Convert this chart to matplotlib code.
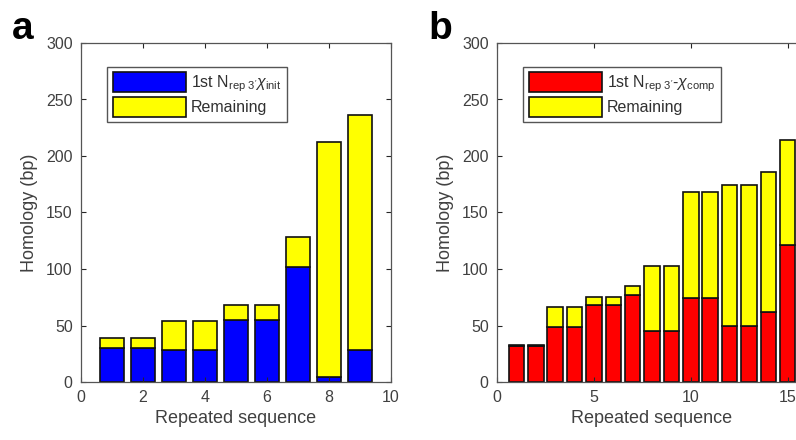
import matplotlib
matplotlib.use("Agg")
import matplotlib.pyplot as plt

plt.rcParams['font.family'] = ['Liberation Sans', 'DejaVu Sans']
plt.rcParams['mathtext.fontset'] = 'custom'
plt.rcParams['mathtext.rm'] = 'Liberation Sans'
plt.rcParams['mathtext.it'] = 'Liberation Sans:italic'

# panel a data
seq_a = [1, 2, 3, 4, 5, 6, 7, 8, 9]
first_a = [30, 30, 28, 28, 55, 55, 102, 4, 28]
total_a = [39, 39, 54, 54, 68, 68, 128, 212, 236]

# panel b data
seq_b = [1, 2, 3, 4, 5, 6, 7, 8, 9, 10, 11, 12, 13, 14, 15]
first_b = [32, 32, 49, 49, 68, 68, 77, 45, 45, 74, 74, 50, 50, 62, 121]
total_b = [33, 33, 66, 66, 75, 75, 85, 103, 103, 168, 168, 174, 174, 186, 214]

label_a = r"1st N$_{\mathrm{rep}\ 3'}\chi_{\mathrm{init}}$"
label_b = r"1st N$_{\mathrm{rep}\ 3'}$-$\chi_{\mathrm{comp}}$"

axcol = '#262626'

fig = plt.figure(figsize=(7.96, 4.4), dpi=100)
ax_a = fig.add_axes([81/796, 58/440, 310/796, 339/440])
ax_b = fig.add_axes([497/796, 58/440, 310/796, 339/440])


def draw(ax, seq, first, total, color, label, xmax, xticks):
    rest = [t - f for t, f in zip(total, first)]
    ax.bar(seq, first, width=0.8, color=color, edgecolor='#111111', linewidth=1.2, label=label)
    ax.bar(seq, rest, bottom=first, width=0.8, color='#ffff00', edgecolor='#111111',
           linewidth=1.2, label='Remaining')
    ax.set_xlim(0, xmax)
    ax.set_ylim(0, 300)
    ax.set_xticks(xticks)
    ax.set_yticks(range(0, 301, 50))
    ax.tick_params(direction='in', top=True, right=True, length=3.5, width=0.8,
                   labelsize=11.5, colors=axcol, labelcolor='#404040', pad=6)
    for s in ax.spines.values():
        s.set_color('#555555')
        s.set_linewidth(0.9)
    ax.set_xlabel('Repeated sequence', fontsize=13, color='#404040', labelpad=3)
    ax.set_ylabel('Homology (bp)', fontsize=13, color='#404040', labelpad=6)
    leg = ax.legend(loc='upper left', bbox_to_anchor=(0.085, 0.93), fontsize=11.5,
                    handlelength=4.6, handleheight=1.55, labelspacing=0.15,
                    borderpad=0.35, handletextpad=0.3, fancybox=False,
                    framealpha=1, edgecolor='#555555', borderaxespad=0)
    leg.get_frame().set_linewidth(1.0)
    for t in leg.get_texts():
        t.set_color('#303030')


draw(ax_a, seq_a, first_a, total_a, '#0000ff', label_a, 10, [0, 2, 4, 6, 8, 10])
draw(ax_b, seq_b, first_b, total_b, '#ff0000', label_b, 16, [0, 5, 10, 15])

fig.text(12/796, 1 - 39/440, 'a', fontsize=28, fontweight='bold', va='baseline')
fig.text(428/796, 1 - 39/440, 'b', fontsize=28, fontweight='bold', va='baseline')

fig.savefig('out.png', dpi=100)
